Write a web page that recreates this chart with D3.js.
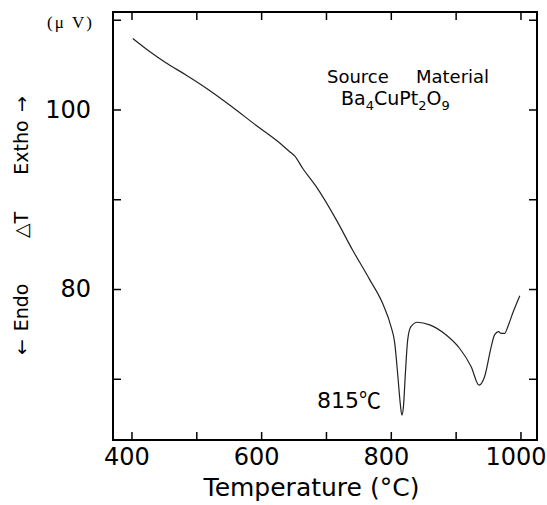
<!DOCTYPE html>
<html>
<head>
<meta charset="utf-8">
<script src="https://d3js.org/d3.v7.min.js"></script>
<style>
body { margin: 0; background: #fff; }
text { fill: #000; }
</style>
</head>
<body>
<div id="chart-area"></div>
<script>
/*
* DTA curve, Ba4CuPt2O9 source material
*/

// curve
const temps = [402, 428, 453, 484, 520, 556, 592, 623, 644, 652, 664, 685, 716, 741, 767, 788, 800, 806, 811, 814.5, 817, 819.5, 822.5, 826, 831, 841, 860, 885, 906, 924, 936, 944.5, 955, 960, 966.5, 970, 975.5, 980.5, 988, 999]
const deltaT = [107.9, 106.45, 105.2, 103.85, 102.15, 100.25, 98.25, 96.6, 95.3, 94.8, 93.45, 91.4, 87.7, 84.35, 81.1, 78.3, 75.9, 74.0, 70.2, 67.3, 65.95, 66.9, 70.6, 74.3, 75.8, 76.3, 76.0, 74.9, 73.4, 71.35, 69.3, 70.2, 73.6, 74.9, 75.25, 75.05, 75.05, 75.8, 77.3, 79.25]

const xTicks = [400, 500, 600, 700, 800, 900, 1000]
const xLabels = [400, 600, 800, 1000]
const yTicks = [70, 80, 90, 100, 110]
const yLabels = [80, 100]

const margin = { left: 113, right: 10, top: 12, bottom: 65 }
const width = 547 - margin.left - margin.right,
    height = 505 - margin.top - margin.bottom

const svg = d3.select("#chart-area")
    .append("svg")
        .attr("width", 547)
        .attr("height", 505)

const g = svg.append("g")
    .attr("transform", `translate(${margin.left}, ${margin.top})`)

const x = d3.scaleLinear()
    .domain([371.5, 1025.5])
    .range([0, width])

const y = d3.scaleLinear()
    .domain([63.18, 110.86])
    .range([height, 0])

// axes, ticks point inward on all four sides
const xAxisCall = d3.axisBottom(x)
    .tickValues(xTicks)
    .tickSizeInner(-8)
    .tickSizeOuter(0)
    .tickPadding(8)
    .tickFormat(d => xLabels.includes(d) ? d : "")

const yAxisCall = d3.axisLeft(y)
    .tickValues(yTicks)
    .tickSizeInner(-8)
    .tickSizeOuter(0)
    .tickPadding(22)
    .tickFormat(d => yLabels.includes(d) ? d : "")

const xTopCall = d3.axisTop(x)
    .tickValues(xTicks)
    .tickSizeInner(-8)
    .tickSizeOuter(0)
    .tickFormat("")

const yRightCall = d3.axisRight(y)
    .tickValues(yTicks)
    .tickSizeInner(-8)
    .tickSizeOuter(0)
    .tickFormat("")

const xAxisGroup = g.append("g")
    .attr("transform", `translate(0, ${height})`)
    .call(xAxisCall)
xAxisGroup.selectAll("text").attr("dx", -5)

g.append("g").call(yAxisCall)
g.append("g").call(xTopCall)
g.append("g")
    .attr("transform", `translate(${width}, 0)`)
    .call(yRightCall)

g.selectAll(".domain").remove()
g.selectAll(".tick line")
    .attr("stroke", "#000")
    .attr("stroke-width", 1.5)
g.selectAll(".tick text")
    .attr("font-family", "DejaVu Sans")
    .attr("font-size", "24px")
    .attr("fill", "#000")

// frame
g.append("rect")
    .attr("width", width)
    .attr("height", height)
    .attr("fill", "none")
    .attr("stroke", "#000")
    .attr("stroke-width", 2)

// the curve
const line = d3.line()
    .x((d, i) => x(temps[i]))
    .y(d => y(d))
    .curve(d3.curveMonotoneX)

g.append("path")
    .datum(deltaT)
    .attr("d", line)
    .attr("fill", "none")
    .attr("stroke", "#222")
    .attr("stroke-width", 1.2)

// unit label
svg.append("text")
    .attr("x", 47)
    .attr("y", 28)
    .attr("font-family", "Liberation Serif")
    .attr("font-size", "17px")
    .attr("textLength", 45)
    .attr("lengthAdjust", "spacing")
    .text("(μ V)")

// rotated y label pieces
const yParts = [["→", 104], ["Extho", 147.5], ["△T", 225], ["Endo", 307.5], ["←", 347]]
yParts.forEach(p => {
    svg.append("text")
        .attr("transform", `translate(28, ${p[1]}) rotate(-90)`)
        .attr("text-anchor", "middle")
        .attr("font-family", "DejaVu Sans")
        .attr("font-size", "19px")
        .text(p[0])
})

// x title
svg.append("text")
    .attr("x", 311.5)
    .attr("y", 496)
    .attr("text-anchor", "middle")
    .attr("font-family", "DejaVu Sans")
    .attr("font-size", "25px")
    .text("Temperature (°C)")

// sample name
svg.append("text")
    .attr("x", 327)
    .attr("y", 83)
    .attr("font-family", "DejaVu Sans")
    .attr("font-size", "18px")
    .text("Source")

svg.append("text")
    .attr("x", 416)
    .attr("y", 83)
    .attr("font-family", "DejaVu Sans")
    .attr("font-size", "18px")
    .text("Material")

const formula = svg.append("text")
    .attr("x", 341)
    .attr("y", 105)
    .attr("font-family", "DejaVu Sans")
    .attr("font-size", "19px")
const parts = [["Ba", 0], ["4", 5], ["CuPt", -5], ["2", 5], ["O", -5], ["9", 5]]
parts.forEach(p => {
    formula.append("tspan")
        .attr("font-size", p[1] > 0 ? "13px" : "19px")
        .attr("dy", p[1])
        .text(p[0])
})

// peak annotation
const peak = svg.append("text")
    .attr("x", 317)
    .attr("y", 408)
    .attr("font-family", "DejaVu Sans")
    .attr("font-size", "22px")
peak.append("tspan").text("815")
peak.append("tspan")
    .attr("font-family", "Noto Sans CJK JP")
    .text("℃")
</script>
</body>
</html>
